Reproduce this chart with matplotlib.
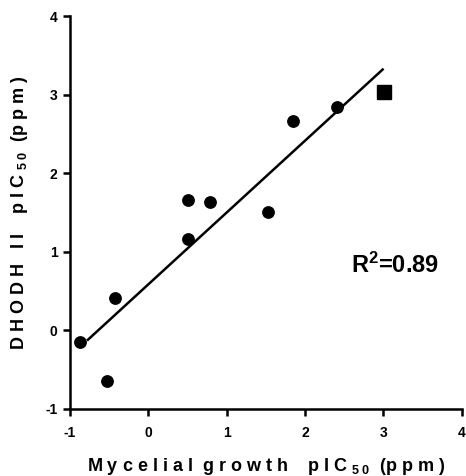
import numpy as np
import matplotlib.pyplot as plt

plt.rcParams['font.family'] = ['Liberation Sans', 'DejaVu Sans']
plt.rcParams['font.weight'] = 'bold'
plt.rcParams['mathtext.fontset'] = 'custom'
plt.rcParams['mathtext.rm'] = 'Liberation Sans:bold'
plt.rcParams['mathtext.it'] = 'Liberation Sans:bold'
plt.rcParams['mathtext.bf'] = 'Liberation Sans:bold'

# compounds (circles)
growth_pic50 = [-0.87, -0.53, -0.42, 0.51, 0.51, 0.79, 1.53, 1.84, 2.41]
dhodh_pic50 = [-0.15, -0.64, 0.41, 1.66, 1.16, 1.64, 1.51, 2.66, 2.84]
# reference compound (square)
ref_growth = [3.01]
ref_dhodh = [3.04]
# regression line
fit_slope = 0.915
fit_intercept = 0.585
fit_range = [-0.77, 2.99]
r2_text = 'R$^{2}$=0.89'

xticks = [-1, 0, 1, 2, 3, 4]
yticks = [-1, 0, 1, 2, 3, 4]


def spaced(word):
    return ' '.join(word)


fig = plt.figure(figsize=(4.66, 4.76), dpi=100)
ax = fig.add_axes([0.150, 0.141, 0.841, 0.825])

xs = np.array(fit_range)
ax.plot(xs, fit_slope * xs + fit_intercept, color='black', lw=1.8, zorder=2)
ax.plot(growth_pic50, dhodh_pic50, 'o', color='black', ms=8.2, zorder=3,
        clip_on=False)
ax.plot(ref_growth, ref_dhodh, 's', color='black', ms=9.5, zorder=3,
        clip_on=False)

ax.text(2.58, 0.83, r2_text, fontsize=17, fontweight='bold', va='center',
        ha='left')

ax.set_xlim(-1, 4)
ax.set_ylim(-1, 4)
ax.set_xticks(xticks)
ax.set_yticks(yticks)
ax.set_xticklabels([str(t) for t in xticks])
ax.set_yticklabels([str(t) for t in yticks])

for side in ['top', 'right']:
    ax.spines[side].set_visible(False)
for side in ['left', 'bottom']:
    ax.spines[side].set_linewidth(1.8)
ax.tick_params(direction='out', length=5, width=1.8, labelsize=10)
ax.tick_params(axis='x', pad=7)
ax.tick_params(axis='y', pad=4)

xlabel = (spaced('Mycelial') + '  ' + spaced('growth') + '    ' + spaced('pIC')
          + r' $_{5\ 0}$ ' + ' (' + spaced('ppm') + ' )')
ylabel = (spaced('DHODH') + '   ' + spaced('II') + '    ' + spaced('pIC')
          + r' $_{5\ 0}$ ' + ' (' + spaced('ppm') + ' )')
ax.set_xlabel(xlabel, fontsize=13, fontweight='bold', labelpad=11.5)
ax.set_ylabel(ylabel, fontsize=13, fontweight='bold', labelpad=11)

fig.savefig('out.png', dpi=100)
